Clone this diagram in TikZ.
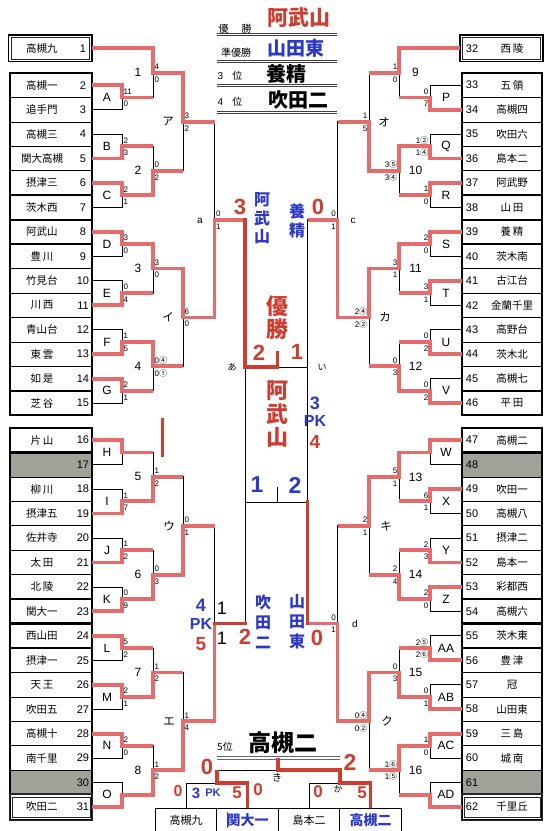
\documentclass[tikz,border=0pt]{standalone}
\usepackage{fontspec}
\setmainfont{Liberation Sans}
\newfontfamily\jp{Noto Sans CJK JP}
\definecolor{bred}{RGB}{228,108,108}
\definecolor{dred}{RGB}{206,62,48}
\definecolor{tred}{RGB}{206,62,48}
\definecolor{tblue}{RGB}{46,58,198}
\definecolor{cellg}{RGB}{160,162,154}
\newcommand\cir[1]{{\jp #1}}
\newcommand\brk[3]{\draw[bk] (#2) -| (#1); \draw[bk] (#3) -| (#1);}
\newcommand\mwin[3]{\draw[rd] (#1) -| (#2) -- (#3 |- #2);}
\newcommand\scl[3]{\node[sc,anchor=west] (#1-u) at ([shift={(1.4,-6)}]#1) {#2};\node[sc,anchor=west] (#1-l) at ([shift={(1.4,6.6)}]#1) {#3};}
\newcommand\scr[3]{\node[sc,anchor=east] (#1-u) at ([shift={(-1.4,-6)}]#1) {#2};\node[sc,anchor=east] (#1-l) at ([shift={(-1.4,6.6)}]#1) {#3};}
\begin{document}
\begin{tikzpicture}[x=1pt,y=-1pt,
  bk/.style={draw=black,line width=0.8pt},
  rd/.style={draw=bred,line width=3.8pt,line join=miter},
  rdk/.style={draw=dred,line width=3.8pt,line join=miter,line cap=rect},
  tbox/.style={draw=black,line width=0.7pt,minimum width=82pt,minimum height=24.45pt,inner sep=0pt,outer sep=0pt},
  rbox/.style={tbox,minimum width=80pt},
  nm/.style={font=\jp\fontsize{10.5}{12}\selectfont,inner sep=0pt},
  num/.style={font=\fontsize{11}{12}\selectfont,inner sep=0pt},
  lab/.style={font=\fontsize{12}{14}\selectfont,inner sep=0pt},
  labj/.style={font=\jp\fontsize{11.5}{13}\selectfont,inner sep=0pt},
  sc/.style={font=\fontsize{8}{9}\selectfont,inner sep=0pt},
  thk/.style={draw=black,line width=2.2pt},
  dbl/.style={draw=black!85,line width=1.3pt},
  dbli/.style={draw=black!85,line width=0.6pt},
  cell/.style={draw=black,line width=0.8pt,minimum width=61.5pt,minimum height=24pt,inner sep=0pt},
  big/.style={inner sep=0pt,font=\bfseries\fontsize{22}{24}\selectfont},
]
\useasboundingbox (0,0) rectangle (554,831);
\fill[white] (0,0) rectangle (554,831);

% ---------- team boxes left ----------
\node[tbox,minimum width=83.5pt,minimum height=26.5pt,line width=1.3pt] (tb1) at (50.2,48.3) {};
\draw[dbli] ([shift={(2.6,-2.6)}]tb1.south west) rectangle ([shift={(-2.6,2.6)}]tb1.north east);
\node[nm] (tn1) at (42,48.3) {高槻九};
\node[num] (tu1) at (83,48.3) {1};
\foreach \ti/\nm in {2/高槻一,3/追手門,4/高槻三,5/関大高槻,6/摂津三,7/茨木西,8/阿武山,9/{豊\,川},10/竹見台,11/{川\,西},12/青山台,13/{東\,雲},14/{如\,是},15/{芝\,谷}}{
  \pgfmathsetmacro\yy{85.2+24.45*(\ti-2)}
  \node[tbox] (tb\ti) at (51,\yy) {};
  \node[nm] (tn\ti) at (42,\yy) {\nm};
  \node[num] (tu\ti) at (83,\yy) {\ti};
}
\foreach \ti/\nm in {16/{片\,山},18/{柳\,川},19/摂津五,20/佐井寺,21/{太\,田},22/{北\,陵},23/関大一,24/西山田,25/摂津一,26/{天\,王},27/吹田五,28/高槻十,29/南千里,31/吹田二}{
  \pgfmathsetmacro\yy{440.2+24.45*(\ti-16)}
  \node[tbox] (tb\ti) at (51,\yy) {};
  \node[nm] (tn\ti) at (42,\yy) {\nm};
  \node[num] (tu\ti) at (83,\yy) {\ti};
}
\node[tbox,fill=cellg] (tb17) at (51,464.65) {};
\node[num] (tu17) at (83,464.65) {17};
\node[tbox,fill=cellg] (tb30) at (51,782.5) {};
\node[num] (tu30) at (83,782.5) {30};
\draw[line width=1.3pt] (10,73) rectangle (92,415.3);
\draw[line width=1.3pt] (10,428) rectangle (92,819.2);
\foreach \ti in {7,8,15,16,23,24}{\draw[thk] (tb\ti.south west) rectangle (tb\ti.north east);}
\draw[dbl] (9.3,794) rectangle (92.8,820.6);
\draw[dbli] (12,796.8) rectangle (90.2,817.6);

% ---------- team boxes right ----------
\node[tbox,minimum width=83pt,minimum height=26.5pt,line width=1.3pt] (tb32) at (501.5,48.3) {};
\draw[dbli] ([shift={(2.6,-2.6)}]tb32.south west) rectangle ([shift={(-2.6,2.6)}]tb32.north east);
\node[num] (tu32) at (472,48.3) {32};
\node[nm] (tn32) at (512,48.3) {{西\,陵}};
\foreach \ti/\nm in {33/{五\,領},34/高槻四,35/吹田六,36/島本二,37/阿武野,38/{山\,田},39/{養\,精},40/茨木南,41/古江台,42/金蘭千里,43/高野台,44/茨木北,45/高槻七,46/{平\,田}}{
  \pgfmathsetmacro\yy{85.2+24.45*(\ti-33)}
  \node[rbox] (tb\ti) at (502,\yy) {};
  \node[num] (tu\ti) at (472,\yy) {\ti};
  \node[nm] (tn\ti) at (512,\yy) {\nm};
}
\foreach \ti/\nm in {47/高槻二,49/吹田一,50/高槻八,51/摂津二,52/島本一,53/彩都西,54/高槻六,55/茨木東,56/{豊\,津},57/冠,58/山田東,59/{三\,島},60/{城\,南},62/千里丘}{
  \pgfmathsetmacro\yy{440.2+24.45*(\ti-47)}
  \node[rbox] (tb\ti) at (502,\yy) {};
  \node[num] (tu\ti) at (472,\yy) {\ti};
  \node[nm] (tn\ti) at (512,\yy) {\nm};
}
\node[rbox,fill=cellg] (tb48) at (502,464.65) {};
\node[num] (tu48) at (472,464.65) {48};
\node[rbox,fill=cellg] (tb61) at (502,782.5) {};
\node[num] (tu61) at (472,782.5) {61};
\draw[line width=1.3pt] (462,73) rectangle (542,415.3);
\draw[line width=1.3pt] (462,428) rectangle (542,819.2);
\foreach \ti in {38,39,46,47,54,55}{\draw[thk] (tb\ti.south west) rectangle (tb\ti.north east);}
\draw[dbl] (461.2,794) rectangle (542.8,820.6);
\draw[dbli] (464,796.8) rectangle (540,817.6);

% ---------- match coordinates ----------
\foreach \n/\yy in {A/97.425,B/146.325,C/195.225,D/244.125,E/293.025,F/341.925,G/390.825,H/452.425,I/501.325,J/550.225,K/599.125,L/648.025,M/696.925,N/745.825,O/794.725}{\coordinate (m\n) at (122,\yy);}
\foreach \n/\yy in {P/97.425,Q/146.325,R/195.225,S/244.125,T/293.025,U/341.925,V/390.825,W/452.425,X/501.325,Y/550.225,Z/599.125,AA/648.025,AB/696.925,AC/745.825,AD/794.725}{\coordinate (m\n) at (430,\yy);}
\foreach \n/\yy in {1/72.8625,2/170.775,3/268.575,4/366.375,5/476.875,6/574.675,7/672.475,8/770.275}{\coordinate (m\n) at (153,\yy);}
\foreach \n/\yy in {9/72.8625,10/170.775,11/268.575,12/366.375,13/476.875,14/574.675,15/672.475,16/770.275}{\coordinate (m\n) at (399,\yy);}
\coordinate (mRa) at (183,121.82); \coordinate (mRi) at (183,317.475);
\coordinate (mRu) at (183,525.775); \coordinate (mRe) at (183,721.375);
\coordinate (mRo) at (369,121.82); \coordinate (mRka) at (369,317.475);
\coordinate (mRki) at (369,525.775); \coordinate (mRku) at (369,721.375);
\coordinate (ma) at (214.5,219.65); \coordinate (mb) at (214.5,623.575);
\coordinate (mc) at (337.5,219.65); \coordinate (md) at (337.5,623.575);
\coordinate (ca) at (245,219.65); \coordinate (cc) at (307.5,219.65);
\coordinate (cb) at (245,623.575); \coordinate (cd) at (307.5,623.575);
\coordinate (cTL) at (245,367); \coordinate (cTR) at (307.5,367);
\coordinate (cTM) at (277.5,367); \coordinate (cTt) at (277.5,353);
\coordinate (cBL) at (245,502); \coordinate (cBR) at (307.5,502);
\coordinate (cBM) at (277.5,502); \coordinate (cBt) at (277.5,487);

% ---------- black bracket ----------
\brk{mA}{tb2.east}{tb3.east}\brk{mB}{tb4.east}{tb5.east}\brk{mC}{tb6.east}{tb7.east}\brk{mD}{tb8.east}{tb9.east}
\brk{mE}{tb10.east}{tb11.east}\brk{mF}{tb12.east}{tb13.east}\brk{mG}{tb14.east}{tb15.east}
\brk{m1}{tb1.east}{mA}\brk{m2}{mB}{mC}\brk{m3}{mD}{mE}\brk{m4}{mF}{mG}
\brk{mRa}{m1}{m2}\brk{mRi}{m3}{m4}\brk{ma}{mRa}{mRi}
\brk{mH}{tb16.east}{tb17.east}\brk{mI}{tb18.east}{tb19.east}\brk{mJ}{tb20.east}{tb21.east}\brk{mK}{tb22.east}{tb23.east}
\brk{mL}{tb24.east}{tb25.east}\brk{mM}{tb26.east}{tb27.east}\brk{mN}{tb28.east}{tb29.east}\brk{mO}{tb30.east}{tb31.east}
\brk{m5}{mH}{mI}\brk{m6}{mJ}{mK}\brk{m7}{mL}{mM}\brk{m8}{mN}{mO}
\brk{mRu}{m5}{m6}\brk{mRe}{m7}{m8}\brk{mb}{mRu}{mRe}
\brk{mP}{tb33.west}{tb34.west}\brk{mQ}{tb35.west}{tb36.west}\brk{mR}{tb37.west}{tb38.west}\brk{mS}{tb39.west}{tb40.west}
\brk{mT}{tb41.west}{tb42.west}\brk{mU}{tb43.west}{tb44.west}\brk{mV}{tb45.west}{tb46.west}
\brk{m9}{tb32.west}{mP}\brk{m10}{mQ}{mR}\brk{m11}{mS}{mT}\brk{m12}{mU}{mV}
\brk{mRo}{m9}{m10}\brk{mRka}{m11}{m12}\brk{mc}{mRo}{mRka}
\brk{mW}{tb47.west}{tb48.west}\brk{mX}{tb49.west}{tb50.west}\brk{mY}{tb51.west}{tb52.west}\brk{mZ}{tb53.west}{tb54.west}
\brk{mAA}{tb55.west}{tb56.west}\brk{mAB}{tb57.west}{tb58.west}\brk{mAC}{tb59.west}{tb60.west}\brk{mAD}{tb61.west}{tb62.west}
\brk{m13}{mW}{mX}\brk{m14}{mY}{mZ}\brk{m15}{mAA}{mAB}\brk{m16}{mAC}{mAD}
\brk{mRki}{m13}{m14}\brk{mRku}{m15}{m16}\brk{md}{mRki}{mRku}
\draw[bk] (ma) -- (ca) -- (cTL) -- (cTR) -- (cc) -- (mc);
\draw[bk] (cTL) -- (cb) -- (mb);
\draw[bk] (cTR) -- (cd) -- (md);
\draw[bk] (cBL) -- (cBR);
\draw[bk] (cBM) -- (cBt);

% ---------- red winners ----------
\mwin{tb2.east}{mA}{m1}\mwin{tb5.east}{mB}{m2}\mwin{tb6.east}{mC}{m2}\mwin{tb8.east}{mD}{m3}
\mwin{tb11.east}{mE}{m3}\mwin{tb13.east}{mF}{m4}\mwin{tb14.east}{mG}{m4}
\mwin{tb1.east}{m1}{mRa}\mwin{mC}{m2}{mRa}\mwin{mD}{m3}{mRi}\mwin{mF}{m4}{mRi}
\mwin{m1}{mRa}{ma}\mwin{m3}{mRi}{ma}\mwin{mRi}{ma}{ca}
\mwin{tb16.east}{mH}{m5}\mwin{tb19.east}{mI}{m5}\mwin{tb21.east}{mJ}{m6}\mwin{tb23.east}{mK}{m6}
\mwin{tb24.east}{mL}{m7}\mwin{tb26.east}{mM}{m7}\mwin{tb28.east}{mN}{m8}\mwin{tb31.east}{mO}{m8}
\mwin{mI}{m5}{mRu}\mwin{mK}{m6}{mRu}\mwin{mM}{m7}{mRe}\mwin{mO}{m8}{mRe}
\mwin{m6}{mRu}{mb}\mwin{m8}{mRe}{mb}
\draw[rd] (mRe) -| (mb);
\mwin{tb34.west}{mP}{m9}\mwin{tb36.west}{mQ}{m10}\mwin{tb37.west}{mR}{m10}\mwin{tb39.west}{mS}{m11}
\mwin{tb41.west}{mT}{m11}\mwin{tb44.west}{mU}{m12}\mwin{tb46.west}{mV}{m12}
\mwin{tb32.west}{m9}{mRo}\mwin{mQ}{m10}{mRo}\mwin{mS}{m11}{mRka}\mwin{mV}{m12}{mRka}
\mwin{m10}{mRo}{mc}\mwin{m11}{mRka}{mc}\mwin{mRka}{mc}{cc}
\mwin{tb47.west}{mW}{m13}\mwin{tb49.west}{mX}{m13}\mwin{tb52.west}{mY}{m14}\mwin{tb53.west}{mZ}{m14}
\mwin{tb56.west}{mAA}{m15}\mwin{tb58.west}{mAB}{m15}\mwin{tb59.west}{mAC}{m16}\mwin{tb62.west}{mAD}{m16}
\mwin{mW}{m13}{mRki}\mwin{mZ}{m14}{mRki}\mwin{mAB}{m15}{mRku}\mwin{mAC}{m16}{mRku}
\mwin{m13}{mRki}{md}\mwin{m15}{mRku}{md}\mwin{mRku}{md}{cd}
\draw[rdk] (ca) -- (cTL) -- (cTM) -- (cTt);
\draw[rdk] (mb) -- (cb);
\draw[rdk] (cd) -- (cBR);
\draw[dred,line width=3pt] (162,418) -- (162,457);

% ---------- scores ----------
\scl{mA}{11}{0}\scl{mB}{2}{3}\scl{mC}{2}{1}\scl{mD}{3}{0}\scl{mE}{0}{4}\scl{mF}{1}{5}\scl{mG}{2}{1}
\scl{m1}{4}{0}\scl{m2}{0}{2}\scl{m3}{3}{0}\scl{m4}{0\cir{④}}{0\cir{①}}
\scl{mRa}{3}{2}\scl{mRi}{6}{0}\scl{ma}{0}{1}
\scl{mI}{1}{7}\scl{mJ}{1}{2}\scl{mK}{0}{9}\scl{mL}{5}{2}\scl{mM}{2}{1}\scl{mN}{2}{0}
\scl{m5}{1}{2}\scl{m6}{0}{3}\scl{m7}{1}{2}\scl{m8}{1}{2}
\scl{mRu}{0}{1}\scl{mRe}{1}{4}
\scr{mP}{0}{7}\scr{mQ}{1\cir{②}}{1\cir{④}}\scr{mR}{1}{0}\scr{mS}{2}{0}\scr{mT}{3}{1}\scr{mU}{0}{2}\scr{mV}{0}{2}
\scr{m9}{1}{0}\scr{m10}{3\cir{⑤}}{3\cir{④}}\scr{m11}{3}{1}\scr{m12}{0}{3}
\scr{mRo}{1}{5}\scr{mRka}{2\cir{④}}{2\cir{②}}\scr{mc}{0}{1}
\scr{mX}{6}{1}\scr{mY}{2}{3}\scr{mZ}{2}{0}\scr{mAA}{2\cir{⑤}}{2\cir{⑥}}\scr{mAB}{0}{1}\scr{mAC}{1}{0}
\scr{m13}{5}{1}\scr{m14}{2}{4}\scr{m15}{0}{3}\scr{m16}{1\cir{⑥}}{1\cir{⑤}}
\scr{mRki}{2}{1}\scr{mRku}{0\cir{④}}{0\cir{②}}\scr{md}{0}{1}

% ---------- match labels ----------
\foreach \n/\yy in {A/97.425,B/146.325,C/195.225,D/244.125,E/293.025,F/341.925,G/390.825,H/452.425,I/501.325,J/550.225,K/599.125,L/648.025,M/696.925,N/745.825,O/794.725}{\node[lab] (lb\n) at (107,\yy) {\n};}
\foreach \n/\yy in {P/97.425,Q/146.325,R/195.225,S/244.125,T/293.025,U/341.925,V/390.825,W/452.425,X/501.325,Y/550.225,Z/599.125,AA/648.025,AB/696.925,AC/745.825,AD/794.725}{\node[lab] (lb\n) at (446,\yy) {\n};}
\foreach \n/\yy in {1/72.8625,2/170.775,3/268.575,4/366.375,5/476.875,6/574.675,7/672.475,8/770.275}{\node[lab] (ln\n) at (138,\yy) {\n};}
\foreach \n/\yy in {9/72.8625,10/170.775,11/268.575,12/366.375,13/476.875,14/574.675,15/672.475,16/770.275}{\node[lab] (ln\n) at (415.5,\yy) {\n};}
\node[labj] (lk1) at (168,121.82) {ア};
\node[labj] (lk2) at (168,317.475) {イ};
\node[labj] (lk3) at (169,525.775) {ウ};
\node[labj] (lk4) at (169,721.375) {エ};
\node[labj] (lk5) at (384,121.82) {オ};
\node[labj] (lk6) at (385,317.475) {カ};
\node[labj] (lk7) at (386,525.775) {キ};
\node[labj] (lk8) at (387,721.375) {ク};
\node[lab,font=\fontsize{10}{12}\selectfont] (lra) at (200,220.5) {a};
\node[lab,font=\fontsize{10}{12}\selectfont] (lrc) at (353,220.5) {c};
\node[lab,font=\fontsize{10}{12}\selectfont] (lrd) at (355,624) {d};

% ---------- title ----------
\node[inner sep=0pt,font=\jp\fontsize{10}{12}\selectfont] (h1a) at (235,29) {優\hspace{13pt}勝};
\node[inner sep=0pt,text=tred,font=\jp\bfseries\fontsize{21}{24}\selectfont] (h1b) at (299,18) {阿武山};
\node[inner sep=0pt,font=\jp\fontsize{10}{12}\selectfont] (h2a) at (236,53) {準優勝};
\node[inner sep=0pt,text=tblue,font=\jp\bfseries\fontsize{19}{22}\selectfont] (h2b) at (296,48) {山田東};
\node[inner sep=0pt,font=\fontsize{10}{12}\selectfont] (h3a) at (230,76) {3\hspace{9pt}{\jp 位}};
\node[inner sep=0pt,font=\jp\bfseries\fontsize{20}{22}\selectfont] (h3b) at (286,73.5) {養精};
\node[inner sep=0pt,font=\fontsize{10}{12}\selectfont] (h4a) at (230,102) {4\hspace{9pt}{\jp 位}};
\node[inner sep=0pt,font=\jp\bfseries\fontsize{20}{22}\selectfont] (h4b) at (298,100) {吹田二};
\foreach \yy in {33.6,60.5,84.6,111}{
  \draw[black!75,line width=0.8pt] (217,\yy) -- (337,\yy);
  \draw[black!75,line width=0.8pt] (217,\yy+2.2) -- (337,\yy+2.2);
}

% ---------- center texts ----------
\node[big,text=tred] (c1) at (240,207) {3};
\node[big,text=tred] (c2) at (318,207) {0};
\node[inner sep=0pt,align=center,text=tblue,font=\jp\bfseries\fontsize{16}{18.5}\selectfont] (c3) at (262,218.5) {阿\\武\\山};
\node[inner sep=0pt,align=center,text=tblue,font=\jp\bfseries\fontsize{16}{18.5}\selectfont] (c4) at (297,221) {養\\精};
\node[inner sep=0pt,align=center,text=tred,font=\jp\bfseries\fontsize{22}{23.3}\selectfont] (c5) at (277.5,317.5) {優\\勝};
\node[big,text=tred] (c6) at (259,353) {2};
\node[big,text=tred] (c7) at (297,352) {1};
\node[inner sep=0pt,font=\jp\fontsize{9}{11}\selectfont] (c8) at (232,367) {あ};
\node[inner sep=0pt,font=\jp\fontsize{9}{11}\selectfont] (c9) at (322,367) {い};
\node[inner sep=0pt,align=center,text=tred,font=\jp\bfseries\fontsize{22}{23.5}\selectfont] (c10) at (277.5,414) {阿\\武\\山};
\node[inner sep=0pt,text=tblue,font=\bfseries\fontsize{18}{20}\selectfont] (c11) at (315,403) {3};
\node[inner sep=0pt,text=tblue,font=\bfseries\fontsize{16}{18}\selectfont] (c12) at (315,421) {PK};
\node[inner sep=0pt,text=tred,font=\bfseries\fontsize{19}{21}\selectfont] (c13) at (315,442) {4};
\node[inner sep=0pt,text=tblue,font=\bfseries\fontsize{23}{25}\selectfont] (c14) at (257,485) {1};
\node[inner sep=0pt,text=tblue,font=\bfseries\fontsize{23}{25}\selectfont] (c15) at (295,485) {2};
\node[inner sep=0pt,align=center,text=tblue,font=\jp\bfseries\fontsize{16}{20}\selectfont] (c16) at (263,622) {吹\\田\\二};
\node[inner sep=0pt,align=center,text=tblue,font=\jp\bfseries\fontsize{16}{20}\selectfont] (c17) at (297,622) {山\\田\\東};
\node[inner sep=0pt,font=\fontsize{18}{20}\selectfont] (c18) at (222,608) {1};
\node[inner sep=0pt,font=\fontsize{18}{20}\selectfont] (c19) at (222,638) {1};
\node[big,text=tred] (c20) at (245,637) {2};
\node[big,text=tred] (c21) at (317,638) {0};
\node[inner sep=0pt,text=tblue,font=\bfseries\fontsize{18}{20}\selectfont] (c22) at (201,605) {4};
\node[inner sep=0pt,text=tblue,font=\bfseries\fontsize{16}{18}\selectfont] (c23) at (201,624) {PK};
\node[inner sep=0pt,text=tred,font=\bfseries\fontsize{19}{21}\selectfont] (c24) at (201,644) {5};

% ---------- 5th place ----------
\node[inner sep=0pt,font=\jp\fontsize{10}{12}\selectfont] (f1) at (225,747) {5位};
\node[inner sep=0pt,font=\jp\bfseries\fontsize{23}{25}\selectfont] (f2) at (283,743) {高槻二};
\draw[black!60,line width=1.2pt] (217,756.6) -- (340,756.6);
\draw[black!60,line width=1.2pt] (217,759.6) -- (340,759.6);
\node[cell] (bc1) at (186,820) {\jp\fontsize{11}{13}\selectfont 高槻九};
\node[cell] (bc2) at (247.5,820) {\textcolor{tblue}{\jp\bfseries\fontsize{14}{16}\selectfont 関大一}};
\node[cell] (bc3) at (309,820) {\jp\fontsize{11}{13}\selectfont 島本二};
\node[cell] (bc4) at (370.5,820) {\textcolor{tblue}{\jp\bfseries\fontsize{14}{16}\selectfont 高槻二}};
\draw[tblue,line width=0.5pt] (227,812) -- (227,828);
\coordinate (k1) at (216.75,783); \coordinate (k1t) at (216.75,770);
\coordinate (k2) at (339.75,783); \coordinate (k2t) at (339.75,770);
\coordinate (k3) at (278.25,770); \coordinate (k3t) at (278.25,758);
\draw[bk] (bc1.north) |- (k1) -| (bc2.north);
\draw[bk] (bc3.north) |- (k2) -| (bc4.north);
\draw[bk] (k1) -- (k1t) -- (k2t) -- (k2);
\draw[rdk,line cap=butt] (bc2.north) |- (k1) -- (k1t);
\draw[rdk,line cap=butt] (bc4.north) |- (k2) -- (k2t) -- (k3) -- (k3t);
\node[inner sep=0pt,text=tred,font=\bfseries\fontsize{16}{18}\selectfont] (f3) at (178,791) {0};
\node[inner sep=0pt,text=tblue,font=\bfseries\fontsize{15}{17}\selectfont] (f4) at (196,793) {3};
\node[inner sep=0pt,text=tblue,font=\bfseries\fontsize{11}{13}\selectfont] (f5) at (213,793) {PK};
\node[inner sep=0pt,text=tred,font=\bfseries\fontsize{17}{19}\selectfont] (f6) at (237,793) {5};
\node[inner sep=0pt,text=tred,font=\bfseries\fontsize{17}{19}\selectfont] (f7) at (258,790) {0};
\node[inner sep=0pt,text=tred,font=\bfseries\fontsize{17}{19}\selectfont] (f8) at (318,792) {0};
\node[inner sep=0pt,font=\jp\fontsize{9}{11}\selectfont] (f9) at (338,789) {か};
\node[inner sep=0pt,text=tred,font=\bfseries\fontsize{17}{19}\selectfont] (f10) at (362,793) {5};
\node[inner sep=0pt,font=\jp\fontsize{10}{12}\selectfont] (f11) at (277,778) {き};
\node[inner sep=0pt,text=tred,font=\bfseries\fontsize{22}{24}\selectfont] (f12) at (207,767) {0};
\node[inner sep=0pt,text=tred,font=\bfseries\fontsize{23}{25}\selectfont] (f13) at (350,762) {2};
\end{tikzpicture}
\end{document}
